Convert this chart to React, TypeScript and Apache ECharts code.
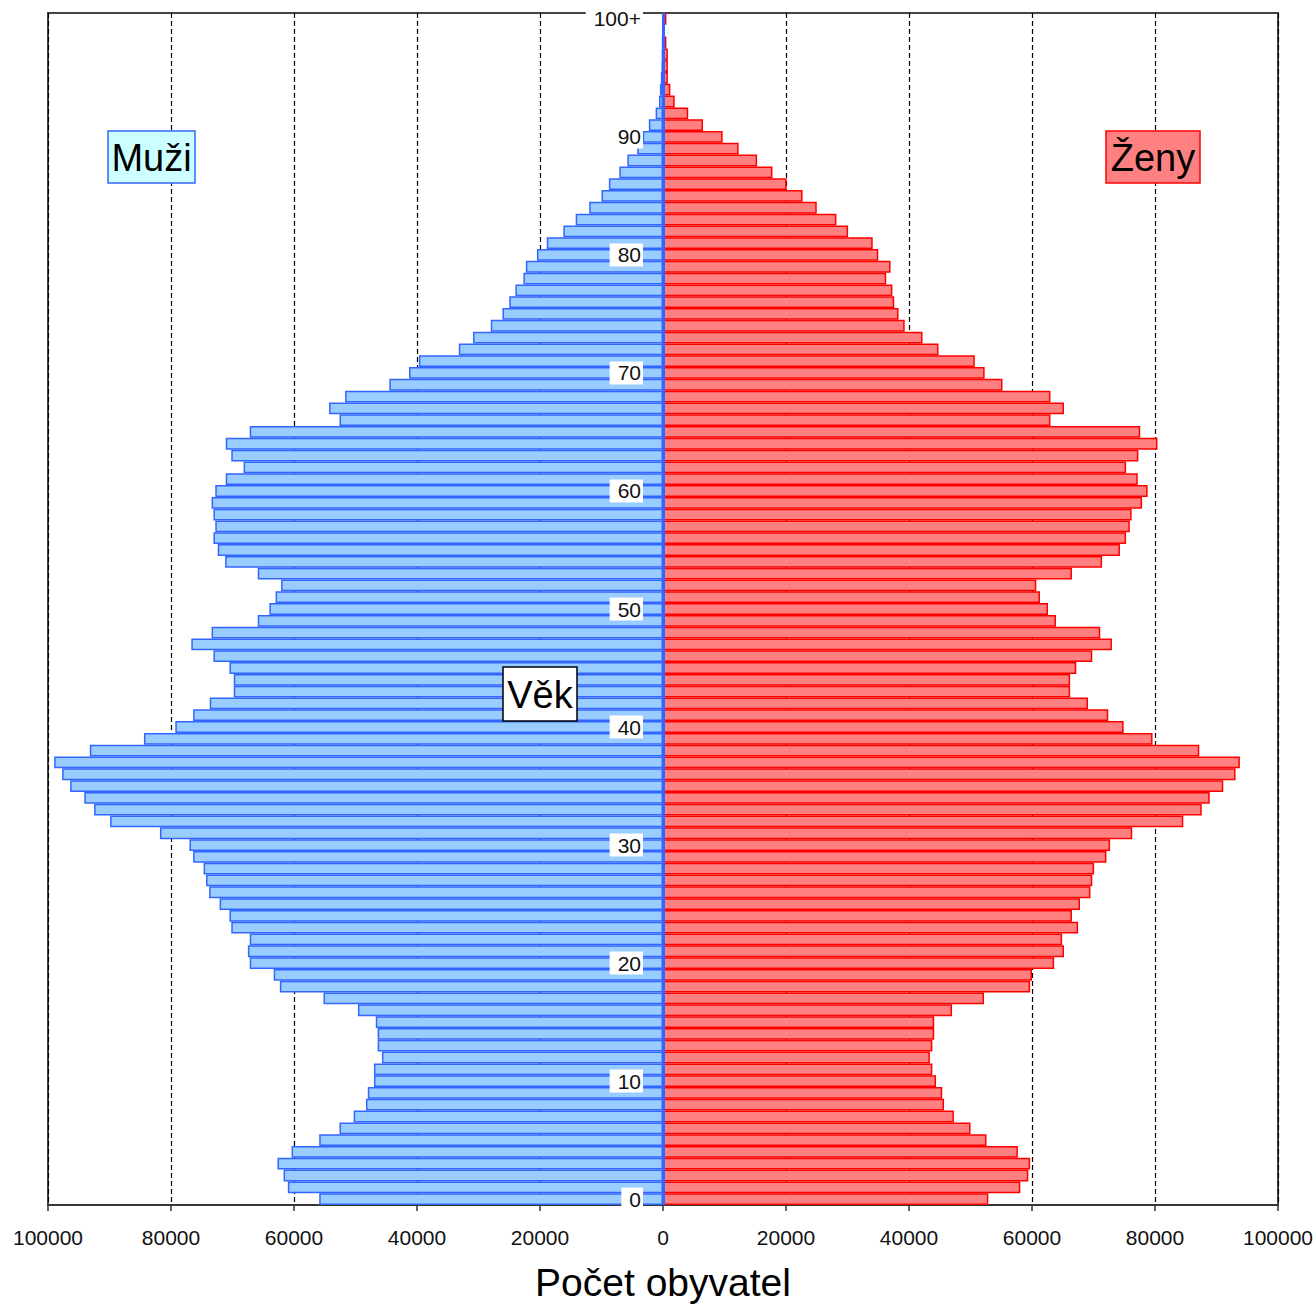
import React, { useEffect, useRef } from "react";
import * as echarts from "echarts";

const ages: string[] = [
  "0","1","2","3","4","5","6","7","8","9",
  "10","11","12","13","14","15","16","17","18","19",
  "20","21","22","23","24","25","26","27","28","29",
  "30","31","32","33","34","35","36","37","38","39",
  "40","41","42","43","44","45","46","47","48","49",
  "50","51","52","53","54","55","56","57","58","59",
  "60","61","62","63","64","65","66","67","68","69",
  "70","71","72","73","74","75","76","77","78","79",
  "80","81","82","83","84","85","86","87","88","89",
  "90","91","92","93","94","95","96","97","98","99","100+",
];

const males: number[] = [
  55900, 61000, 61700, 62700, 60400, 55900, 52600, 50300, 48300, 48000,
  47000, 47000, 45700, 46400, 46400, 46700, 49600, 55200, 62300, 63300,
  67200, 67500, 67200, 70200, 70500, 72100, 73800, 74300, 74700, 76400,
  77000, 81800, 89900, 92500, 94100, 96400, 97700, 99000, 93200, 84400,
  79300, 76400, 73700, 69800, 69800, 70500, 73100, 76700, 73400, 65900,
  64000, 63000, 62100, 65900, 71200, 72400, 73100, 72800, 73100, 73400,
  72800, 71100, 68200, 70200, 71100, 67200, 52600, 54300, 51700, 44500,
  41300, 39700, 33200, 30900, 28000, 26100, 25000, 24000, 22700, 22300,
  20500, 18900, 16200, 14200, 12000, 10000, 8800, 7100, 5800, 4200,
  3300, 2300, 1200, 650, 500, 350, 250, 200, 150, 100, 100,
];

const females: number[] = [
  52900, 58100, 59400, 59700, 57700, 52600, 50000, 47300, 45700, 45400,
  44400, 43800, 43400, 43800, 44100, 44100, 47000, 52200, 59700, 60000,
  63600, 65200, 64900, 67500, 66500, 67800, 69500, 69800, 70100, 72100,
  72700, 76300, 84600, 87600, 88900, 91100, 93100, 93800, 87200, 79600,
  74900, 72400, 69100, 66200, 66200, 67200, 69800, 73000, 71100, 63900,
  62600, 61300, 60700, 66500, 71400, 74300, 75300, 75900, 76200, 77900,
  78800, 77200, 75300, 77300, 80400, 77600, 63000, 65200, 63000, 55200,
  52300, 50700, 44800, 42200, 39300, 38300, 37600, 37300, 36300, 37000,
  35000, 34100, 30100, 28200, 25000, 22700, 20100, 17800, 15300, 12300,
  9700, 6500, 4100, 1900, 1200, 800, 800, 800, 550, 300, 550,
];

const xMin = -100000;
const xMax = 100000;
const xStep = 20000;

const FONT = '"Liberation Sans", Arial, sans-serif';

const W = 1316;
const H = 1304;
const GRID_LEFT = 48;
const GRID_RIGHT = 38;

function boxText(text: string, cx: number, cy: number, fontSize: number) {
  return {
    type: "text",
    x: cx,
    y: cy,
    z: 31,
    style: {
      text,
      fill: "#000",
      fontSize,
      fontFamily: FONT,
      textAlign: "center",
      textVerticalAlign: "middle",
      align: "center",
      verticalAlign: "middle",
    },
  };
}

export default function App() {
  const ref = useRef<HTMLDivElement>(null);

  useEffect(() => {
    if (!ref.current) return;
    const chart = echarts.init(ref.current, undefined, { renderer: "svg" });
    const halfWidth = (W - GRID_LEFT - GRID_RIGHT) / 2;
    chart.setOption({
      animation: false,
      backgroundColor: "#fff",
      textStyle: { fontFamily: FONT },
      grid: {
        left: GRID_LEFT,
        right: GRID_RIGHT,
        top: 13,
        bottom: 99,
        containLabel: false,
        outerBoundsMode: "none",
        show: true,
        borderColor: "#444",
        borderWidth: 2,
        backgroundColor: "transparent",
      },
      xAxis: {
        type: "value",
        min: xMin,
        max: xMax,
        interval: xStep,
        name: "Počet obyvatel",
        nameLocation: "middle",
        nameGap: 58,
        nameTextStyle: { fontSize: 39, color: "#000", fontFamily: FONT },
        axisLine: { show: true, onZero: false, lineStyle: { color: "#333", width: 1.5 } },
        axisTick: { show: true, inside: false, length: 6, lineStyle: { color: "#333", width: 1.5 } },
        axisLabel: {
          fontSize: 21,
          color: "#111",
          margin: 22,
          fontFamily: FONT,
          formatter: (v: number) => String(Math.abs(v)),
        },
        splitLine: {
          show: true,
          lineStyle: { color: "#000", width: 1.2, type: [5, 3] },
        },
      },
      yAxis: {
        type: "category",
        data: ages,
        z: 10,
        position: "left",
        offset: -halfWidth,
        axisLine: { show: false, onZero: false },
        axisTick: { show: false },
        splitLine: { show: false },
        axisLabel: {
          interval: 9,
          fontSize: 21,
          color: "#111",
          margin: 20,
          fontFamily: FONT,
          backgroundColor: "#fff",
          padding: [1, 2, 1, 8],
        },
      },
      series: [
        {
          name: "Ženy",
          type: "bar",
          z: 2,
          data: females,
          barGap: "-100%",
          barCategoryGap: "0%",
          itemStyle: { color: "#ff8080", borderColor: "#ff0000", borderWidth: 1.5 },
        },
        {
          name: "Muži",
          type: "bar",
          z: 3,
          data: males.map((v) => -v),
          barGap: "-100%",
          barCategoryGap: "0%",
          itemStyle: { color: "#99ccff", borderColor: "#3366ff", borderWidth: 1.5 },
          markLine: {
            silent: true,
            symbol: "none",
            z: 5,
            label: { show: false },
            lineStyle: { color: "#3366ff", width: 3, type: "solid" },
            data: [{ xAxis: 0 }],
          },
        },
      ],
      graphic: [
        {
          type: "rect",
          z: 30,
          shape: { x: 108, y: 131, width: 87, height: 52 },
          style: { fill: "#ccffff", stroke: "#3366ff", lineWidth: 1.5 },
        },
        boxText("Muži", 151.5, 157.5, 38),
        {
          type: "rect",
          z: 30,
          shape: { x: 1106, y: 131, width: 94, height: 52 },
          style: { fill: "#ff8080", stroke: "#ff0000", lineWidth: 1.5 },
        },
        boxText("Ženy", 1153, 157.5, 38),
        {
          type: "rect",
          z: 30,
          shape: { x: 503, y: 667, width: 74, height: 54 },
          style: { fill: "#fff", stroke: "#000", lineWidth: 1.5 },
        },
        boxText("Věk", 540, 694.5, 38),
      ],
    });
    return () => chart.dispose();
  }, []);

  return (
    <div
      ref={ref}
      style={{ position: "absolute", left: 0, top: 0, width: W, height: H }}
    />
  );
}
